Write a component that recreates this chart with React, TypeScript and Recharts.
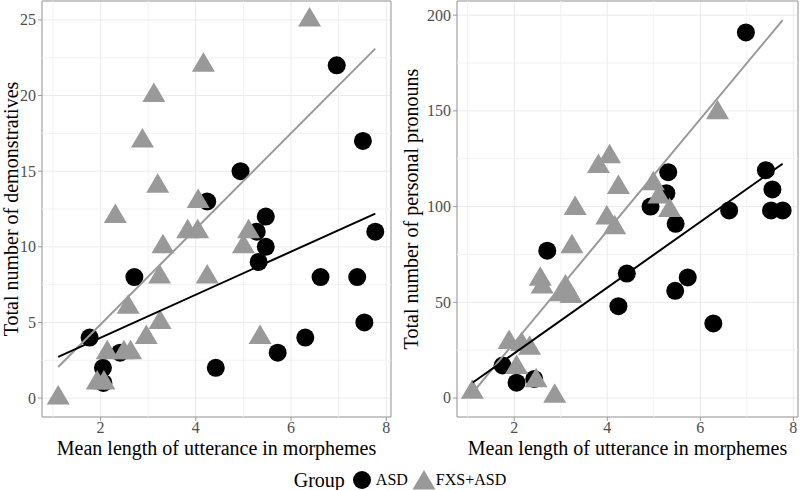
import { ScatterChart, Scatter, XAxis, YAxis, CartesianGrid, ReferenceLine, ReferenceArea, Label } from "recharts"

// mean length of utterance (x) vs counts (y)
const asdDemonstratives = [
  [1.77, 4], [2.05, 2], [2.06, 1], [2.41, 3], [2.71, 8], [4.24, 13], [4.42, 2],
  [4.94, 15], [5.47, 12], [5.28, 11], [5.47, 10], [5.32, 9], [5.72, 3], [6.3, 4],
  [6.62, 8], [6.96, 22], [7.39, 8], [7.51, 17], [7.54, 5], [7.77, 11],
]
const fxsDemonstratives = [
  [1.11, 0], [1.93, 1], [2.07, 1], [2.14, 3], [2.49, 3], [2.63, 3], [2.31, 12],
  [2.58, 6], [2.96, 4], [2.88, 17], [3.12, 20], [3.2, 14], [3.24, 8], [3.25, 5],
  [3.31, 10], [3.83, 11], [4.04, 11], [4.05, 13], [4.16, 22], [4.24, 8], [5.0, 10],
  [5.11, 11], [5.35, 4], [6.39, 25],
]
const asdPronouns = [
  [1.75, 17], [2.05, 8], [2.43, 10], [2.71, 77], [4.24, 48], [4.42, 65], [4.93, 100],
  [5.31, 118], [5.27, 107], [5.47, 91], [5.46, 56], [5.73, 63], [6.28, 39], [6.62, 98],
  [6.98, 191], [7.41, 119], [7.55, 109], [7.52, 98], [7.77, 98],
]
const fxsPronouns = [
  [1.1, 3], [1.89, 29], [2.16, 28], [2.33, 26], [2.05, 16], [2.47, 9], [2.87, 1],
  [2.56, 62], [2.6, 58], [3.0, 54], [3.1, 58], [3.15, 55], [3.22, 53], [3.24, 79],
  [3.31, 99], [3.99, 94], [4.16, 89], [3.81, 121], [4.05, 126], [4.24, 110],
  [4.99, 112], [5.11, 105], [5.34, 98], [6.37, 149],
]

// fitted lines (endpoints)
const fitAsdDemonstratives = [[1.11, 2.72], [7.77, 12.2]]
const fitFxsDemonstratives = [[1.11, 2.06], [7.77, 23.1]]
const fitAsdPronouns = [[1.11, 8.1], [7.77, 122.4]]
const fitFxsPronouns = [[1.11, 2.9], [7.77, 197.4]]

const xTicks = [2, 4, 6, 8]
const xMinor = [1, 3, 5, 7]
const xDomain = [0.77, 8.1]
const yTicksDemonstratives = [0, 5, 10, 15, 20, 25]
const yMinorDemonstratives = [2.5, 7.5, 12.5, 17.5, 22.5]
const yTicksPronouns = [0, 50, 100, 150, 200]
const yMinorPronouns = [25, 75, 125, 175]

const serif = "'Liberation Serif', 'DejaVu Serif', serif"

const toPoints = (rows: number[][]) => rows.map(([x, y]) => ({ x, y }))

const Dot = (props: any) => <circle cx={props.cx} cy={props.cy} r={9} fill="#000" />

const Tri = (props: any) => {
  const { cx, cy } = props
  return <path d={`M${cx},${cy - 13}L${cx + 11.5},${cy + 6.5}L${cx - 11.5},${cy + 6.5}Z`} fill="#999" />
}

const Nothing = () => <g />

const XTick = (props: any) => (
  <text x={props.x} y={props.y} dy="0.71em" textAnchor="middle" fill="#4d4d4d" fontSize={16} fontFamily={serif}>
    {props.payload.value}
  </text>
)

const YTick = (props: any) => (
  <text x={props.x} y={props.y} dy="0.34em" textAnchor="end" fill="#4d4d4d" fontSize={16} fontFamily={serif}>
    {props.payload.value}
  </text>
)

interface PanelProps {
  asd: number[][]
  fxs: number[][]
  fitAsd: number[][]
  fitFxs: number[][]
  yDomain: number[]
  yTicks: number[]
  yMinor: number[]
  yLabel: string
  yWidth: number
  right: number
}

function Panel({ asd, fxs, fitAsd, fitFxs, yDomain, yTicks, yMinor, yLabel, yWidth, right }: PanelProps) {
  return (
    <ScatterChart width={400} height={470} margin={{ top: 1, right, bottom: 0, left: 0 }}>
      <CartesianGrid stroke="#ebebeb" />
      {xMinor.map((v) => (
        <ReferenceLine key={"x" + v} x={v} stroke="#f2f2f2" />
      ))}
      {yMinor.map((v) => (
        <ReferenceLine key={"y" + v} y={v} stroke="#f2f2f2" />
      ))}
      <XAxis
        type="number"
        dataKey="x"
        domain={xDomain}
        ticks={xTicks}
        interval={0}
        allowDataOverflow
        height={53}
        axisLine={false}
        tickLine={{ stroke: "#999" }}
        tickSize={4}
        tickMargin={1}
        tick={<XTick />}
      >
        <Label
          value="Mean length of utterance in morphemes"
          position="insideBottom"
          offset={15}
          fill="#000"
          fontSize={20}
          fontFamily={serif}
        />
      </XAxis>
      <YAxis
        type="number"
        dataKey="y"
        domain={yDomain}
        ticks={yTicks}
        interval={0}
        allowDataOverflow
        width={yWidth}
        axisLine={false}
        tickLine={{ stroke: "#999" }}
        tickSize={4}
        tickMargin={2}
        tick={<YTick />}
      >
        <Label
          value={yLabel}
          angle={-90}
          position="insideLeft"
          offset={11}
          fill="#000"
          fontSize={20}
          fontFamily={serif}
          style={{ textAnchor: "middle" }}
        />
      </YAxis>
      <ReferenceArea x1={xDomain[0]} x2={xDomain[1]} y1={yDomain[0]} y2={yDomain[1]} fill="none" stroke="#999" />
      <Scatter data={toPoints(asd)} shape={Dot} isAnimationActive={false} />
      <Scatter data={toPoints(fxs)} shape={Tri} isAnimationActive={false} />
      <Scatter data={toPoints(fitFxs)} line={{ stroke: "#999", strokeWidth: 2 }} shape={Nothing} isAnimationActive={false} />
      <Scatter data={toPoints(fitAsd)} line={{ stroke: "#000", strokeWidth: 2 }} shape={Nothing} isAnimationActive={false} />
    </ScatterChart>
  )
}

export default function App() {
  return (
    <div
      style={{
        position: "absolute",
        left: 0,
        top: 0,
        width: 800,
        height: 490,
        background: "#fff",
        fontFamily: serif,
      }}
    >
      <div style={{ display: "flex" }}>
        <Panel
          asd={asdDemonstratives}
          fxs={fxsDemonstratives}
          fitAsd={fitAsdDemonstratives}
          fitFxs={fitFxsDemonstratives}
          yDomain={[-1.25, 26.25]}
          yTicks={yTicksDemonstratives}
          yMinor={yMinorDemonstratives}
          yLabel="Total number of demonstratives"
          yWidth={42}
          right={9}
        />
        <Panel
          asd={asdPronouns}
          fxs={fxsPronouns}
          fitAsd={fitAsdPronouns}
          fitFxs={fitFxsPronouns}
          yDomain={[-9.9, 207.4]}
          yTicks={yTicksPronouns}
          yMinor={yMinorPronouns}
          yLabel="Total number of personal pronouns"
          yWidth={57}
          right={2}
        />
      </div>
      <div
        style={{
          display: "flex",
          justifyContent: "center",
          alignItems: "center",
          height: 20,
          color: "#000",
        }}
      >
        <span style={{ fontSize: 20, marginRight: 8 }}>Group</span>
        <svg width={18} height={18} style={{ marginRight: 5 }}>
          <circle cx={9} cy={9} r={9} fill="#000" />
        </svg>
        <span style={{ fontSize: 16, marginRight: 4 }}>ASD</span>
        <svg width={24} height={20}>
          <path d="M12,0L23.5,19.5L0.5,19.5Z" fill="#999" />
        </svg>
        <span style={{ fontSize: 16 }}>FXS+ASD</span>
      </div>
    </div>
  )
}
